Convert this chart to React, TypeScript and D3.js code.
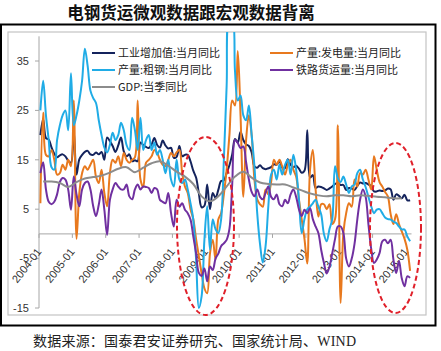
import React from 'react';
import * as d3 from 'd3';

// 2004-01 .. 2015-02, monthly
const months = d3.timeMonths(new Date(2004, 0, 1), new Date(2015, 2, 1)).map(d3.timeFormat('%Y-%m'));
const xTickLabels = ['2004-01', '2005-01', '2006-01', '2007-01', '2008-01', '2009-01', '2010-01', '2011-01', '2012-01', '2013-01', '2014-01', '2015-01'];
const yTicks = [-15, -5, 5, 15, 25, 35];

// 工业增加值:当月同比
const iva = [
  20, 23.2, 19.4, 19.1, 17.5, 16.2, 15.5, 15.9, 16.1, 15.7, 14.8, 14.4,
  20.9, 12, 15.1, 16.0, 16.6, 16.8, 16.1, 16.0, 16.5, 16.1, 16.6, 15,
  19.5, 18.8, 17.8, 16.6, 17.9, 19.5, 16.7, 15.7, 16.1, 14.7, 14.9, 14.7,
  18.5, 18.0, 17.6, 17.4, 18.1, 19.4, 18.0, 17.5, 18.9, 17.9, 17.3, 17.4,
  15.4, 15.6, 17.8, 15.7, 16.0, 16.0, 14.7, 12.8, 11.4, 8.2, 5.4, 5.7,
  10.0, 5.0, 8.3, 7.3, 8.9, 10.7, 10.8, 12.3, 13.9, 16.1, 19.2, 18.5,
  20.7, 19.0, 18.1, 17.8, 16.5, 13.7, 13.4, 13.9, 13.3, 13.1, 13.3, 13.5,
  14.1, 14.0, 14.8, 13.4, 13.3, 15.1, 14.0, 13.5, 13.8, 13.2, 12.4, 12.8,
  21.0, 11.4, 11.9, 9.3, 9.6, 9.5, 9.2, 8.9, 9.2, 9.6, 10.1, 10.3,
  9.9, 9.9, 8.9, 9.3, 9.2, 8.9, 9.7, 10.4, 10.2, 10.3, 10.0, 9.7,
  8.6, 8.6, 8.8, 8.7, 8.8, 9.2, 9.0, 6.9, 8.0, 7.7, 7.2, 7.9,
  6.8, 6.8,
];
// 产量:发电量:当月同比
const power = [
  6.2, 24.5, 16, 15.7, 17, 15, 12, 12.3, 14, 13, 15, 13.7,
  27, -1, 8.3, 12.3, 13.7, 13, 14, 15, 11.6, 10.3, 13, 8.3,
  5.6, 12.3, 15, 14.4, 15.7, 13.7, 16.4, 15, 14.4, 15, 15.5, 27,
  11, 9.5, 14.4, 15, 15.7, 17, 16.4, 15, 14, 13.7, 15, 16.4,
  15.7, 16.5, 17, 12.3, 9.6, 8.3, 5, 3, -1, -4.5, -8, -11,
  -12, -4, -1.2, -5.2, 2.9, 4.2, 8, 13, 20, 27, 26, 37,
  24, 7.5, 19, 24, 20, 11, 7, 6, 5.5, 9, 8, 10.5,
  15, 14, 15, 13.6, 12, 14, 15, 13, 11.6, 7, 3, -1,
  -6, 13, 17, 9, 3.5, 6, 6, 5, 6, 2, 3, 22,
  -14, 0.2, 4.2, 6.2, 5.5, 11, 9.6, 12.3, 12, 13, 11, 9,
  15.7, 13, 10.5, 9.6, 8.5, 7.6, 4, 2, 4, 2, 0.5, -1,
  -3.2, -7.5,
];
// 产量:粗钢:当月同比
const steel = [
  25, 31, 24, 19, 13.5, 13, 19, 22, 24, 25, 21, 32.5,
  22, 24, 27, 31, 37.5, 34, 29, 27.5, 26.5, 23, 20, 17.5,
  16.5, 18, 20.5, 19, 20, 22.5, 21, 18, 17, 23.5, 21, 17,
  23.5, 17, 19, 20, 17, 18.5, 16, 17, 15, 12.3, 15, 11,
  9.6, 15, 11, 10.3, 11, 9, 6.2, 2.9, -5, -15, -12.6, -1.2,
  5.6, -3.2, 2.9, 1, 0.2, 2.9, 15, 30, 44, 44, 33, 27,
  28, 24, 23, 26, 20, 13.7, 4.2, -2, -5.8, -2.5, 5.6, 12,
  13, 11, 14, 12, 14, 15, 12, 16, 13, 7, 0.2, 3,
  5, 5.5, 6.2, 6.9, 5.5, 4, 0, -1.5, 1, 3, 13.7, 11.3,
  10.5, 11.6, 10, 8.3, 9.6, 10, 12.3, 13, 11, 9.5, 7.5, 5.6,
  4.2, 4.9, 5, 4.2, 3.3, 3, 2.9, 2.5, 2.2, 1.5, 0.9, 0.9,
  -0.5, -1.5,
];
// 铁路货运量:当月同比
const rail = [
  12.3, 14.5, 9, 6.5, 6, 6.5, 8, 10.5, 11.3, 11, 9, 4.9,
  11.6, 8, 5.6, 9, 10.3, 10.6, 9, 5.6, 3.6, 5.9, 9, 4.9,
  -0.2, 6.9, 9, 10.3, 9.6, 9, 9, 10, 7.6, 7, 9, 10,
  9, 9.6, 9.5, 9.3, 8.3, 9.3, 9, 6.9, 6.5, 6.2, 8.3, 4.2,
  1.5, 6.9, 5.5, 6.2, 4.9, 4.2, 2.9, -0.5, -3.9, -7.9, -8.5, -7,
  -9.6, -6.6, -7.3, -5, -4, -2.5, -1.9, -1.2, 1, 10, 19, 18.4,
  17.4, 17.7, 14.5, 11, 8.5, 7.6, 9, 7.5, 7, 8.3, 9.6, 7.5,
  7, 8, 6, 5.6, 6.9, 6.2, 8, 9, 7.5, 5, 3.6, 4.9,
  4.2, 5.2, 3, 1.5, 0.2, -3.2, -5.9, -8, -6.6, -3.9, -1, 1.5,
  1.5, 0.2, -5, -6.6, -5, -2, 2.9, 6.9, 9, 7.5, 2, -3,
  -5.9, -5.2, -3.9, -1.5, -1.2, -1.9, -1.2, -5.2, -7.9, -5.5, -9, -10.6,
  -8.6, -8.9,
];
// GDP:当季同比, 2004Q1 .. 2014Q4
const gdp = [
  10.6, 10.6, 10.3, 9.5,
  10.5, 11.2, 11.5, 11.8,
  12.4, 13.2, 13.5, 12.5,
  13.4, 14.3, 14.7, 13.8,
  12.6, 11.6, 10.1, 7.6,
  6.6, 7.6, 9.6, 11.6,
  12.6, 11.4, 10.4, 10.1,
  10.0, 10.0, 9.4, 8.8,
  8.2, 7.8, 7.6, 7.8,
  7.8, 7.6, 7.8, 7.7,
  7.5, 7.4, 7.2, 7.2,
];

const series = [
  { name: '工业增加值:当月同比', color: '#14235c', values: iva },
  { name: '产量:发电量:当月同比', color: '#e8791e', values: power },
  { name: '产量:粗钢:当月同比', color: '#20ace6', values: steel },
  { name: '铁路货运量:当月同比', color: '#7030a0', values: rail },
];
const gdpColor = '#8c8c8c';

const W = 441;
const H = 351;
const cjk = '"Noto Sans CJK SC", "Noto Sans", sans-serif';
const latin = '"Liberation Sans", Arial, sans-serif';

export default function App() {
  const x = d3.scaleBand<string>().domain(months).range([39, 411.5]);
  const bw = x.bandwidth();
  const cx = (i: number) => (x(months[i]) ?? 0) + bw / 2;
  const y = d3.scaleLinear().domain([-15, 40]).range([308, 36.3]);

  const line = d3.line<number>().x((_, i) => cx(i)).y(d => y(d)).curve(d3.curveCatmullRom.alpha(0.5));
  const gdpLine = d3.line<number>().x((_, i) => cx(i * 3 + 1)).y(d => y(d)).curve(d3.curveCatmullRom.alpha(0.5));

  const legend = [
    { ...series[0], lx: 92, ly: 53 },
    { ...series[1], lx: 270, ly: 53 },
    { ...series[2], lx: 92, ly: 70 },
    { ...series[3], lx: 270, ly: 70 },
    { name: 'GDP:当季同比', color: gdpColor, lx: 92, ly: 87 },
  ];

  return (
    <svg width={W} height={H} style={{ position: 'absolute', left: 0, top: 0, background: '#fff' }}>
      <defs>
        <clipPath id="plot">
          <rect x={8} y={32} width={418} height={283} />
        </clipPath>
      </defs>
      <rect x={0} y={0} width={W} height={H} fill="#fff" />
      <text x={191} y={19} textAnchor="middle" fontFamily={cjk} fontWeight={700} fontSize={16.5} fill="#111">
        电钢货运微观数据跟宏观数据背离
      </text>

      <rect x={1} y={24.5} width={434.5} height={301} fill="none" stroke="#000" strokeWidth={2} />
      <rect x={8} y={32} width={418} height={283} fill="none" stroke="#c4c4c4" strokeWidth={1.2} />

      {/* y axis */}
      <line x1={39} x2={39} y1={y(40)} y2={y(-15)} stroke="#a6a6a6" />
      {yTicks.map(t => (
        <g key={t}>
          <line x1={35} x2={39} y1={y(t)} y2={y(t)} stroke="#a6a6a6" />
          <text x={29} y={y(t)} dy="0.35em" textAnchor="end" fontFamily={latin} fontSize={11} fill="#333">{t}</text>
        </g>
      ))}

      {/* zero line and category ticks */}
      <line x1={39} x2={411.5} y1={y(0)} y2={y(0)} stroke="#a6a6a6" />
      {xTickLabels.map(l => {
        const tx = x(l) ?? 0;
        return (
          <g key={l}>
            <line x1={tx} x2={tx} y1={y(0)} y2={y(0) + 4} stroke="#a6a6a6" />
            <text transform={`translate(${tx + 3},${y(0) + 18}) rotate(-52)`} textAnchor="end" fontFamily={latin} fontSize={11} fill="#333">{l}</text>
          </g>
        );
      })}

      <g clipPath="url(#plot)" fill="none" strokeWidth={2} strokeLinejoin="round">
        {series.map(s => (
          <path key={s.name} d={line(s.values) ?? ''} stroke={s.color} />
        ))}
        <path d={gdpLine(gdp) ?? ''} stroke={gdpColor} />
      </g>

      {legend.map(l => (
        <g key={l.name}>
          <line x1={l.lx} x2={l.lx + 23} y1={l.ly} y2={l.ly} stroke={l.color} strokeWidth={2} />
          <text x={l.lx + 26} y={l.ly} dy="0.36em" fontFamily={cjk} fontSize={11} fill="#222">{l.name}</text>
        </g>
      ))}

      {/* dashed ellipses */}
      <ellipse cx={205.5} cy={226} rx={28.5} ry={89} fill="none" stroke="#e0202a" strokeWidth={2} strokeDasharray="5 3" />
      <ellipse cx={395.5} cy={228} rx={25.5} ry={85} fill="none" stroke="#e0202a" strokeWidth={2} strokeDasharray="5 3" />

      <text x={33} y={346} fontFamily={cjk} fontSize={14} fill="#222" textLength={323} lengthAdjust="spacing">
        数据来源：国泰君安证券研究、国家统计局、<tspan fontFamily='"Liberation Serif", serif'>WIND</tspan>
      </text>
    </svg>
  );
}
